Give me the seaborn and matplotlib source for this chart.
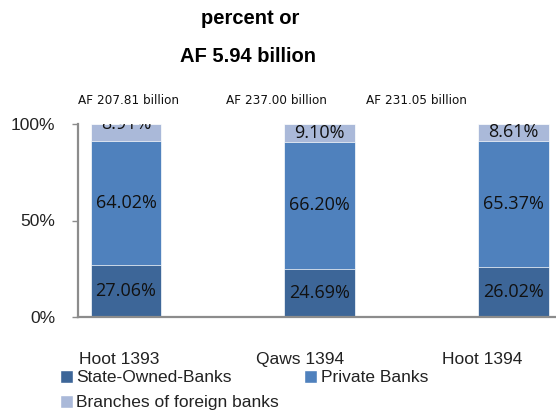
import matplotlib
matplotlib.use("Agg")
import matplotlib.pyplot as plt
import matplotlib.transforms as mtrans
from matplotlib.patches import Patch
from matplotlib import font_manager
import numpy as np
import pandas as pd
import seaborn as sns

periods = ["Hoot 1393", "Qaws 1394", "Hoot 1394"]
state_owned = [27.06, 24.69, 26.02]
private = [64.02, 66.20, 65.37]
foreign = [8.91, 9.10, 8.61]
totals_text = ["AF 207.81 billion", "AF 237.00 billion", "AF 231.05 billion"]
series_names = ["State-Owned-Banks", "Private Banks", "Branches of foreign banks"]
title_lines = ["percent or", "AF 5.94 billion"]

colors = {"State-Owned-Banks": "#3d6698", "Private Banks": "#4f81bd",
          "Branches of foreign banks": "#aab9d9"}

sns.set_theme(style="white")
plt.rcParams['font.family'] = ['Liberation Sans', 'DejaVu Sans']

# look for a condensed face for the total annotations
narrow_family, narrow_stretch, narrow_size = None, "normal", 9.3
for f in font_manager.fontManager.ttflist:
    nm = f.name
    st = f.stretch if isinstance(f.stretch, str) else ""
    if "Narrow" in nm or "Condensed" in nm:
        narrow_family, narrow_stretch, narrow_size = nm, "normal", 9.6
        break
    if st in ("condensed", "semi-condensed") or (isinstance(f.stretch, int) and f.stretch < 500):
        narrow_family, narrow_stretch, narrow_size = nm, "condensed", 9.6
        break
if narrow_family is None:
    narrow_family = "Liberation Sans"

df = pd.DataFrame({"period": periods,
                   "state": np.array(state_owned) / 100,
                   "private": np.array(private) / 100,
                   "foreign": np.array(foreign) / 100})
df["c2"] = df["state"] + df["private"]
df["c3"] = df["c2"] + df["foreign"]

W, H = 556, 412
fig = plt.figure(figsize=(W / 100, H / 100), dpi=100)
ax = fig.add_axes([78 / W, (H - 317) / H, 478 / W, (317 - 124) / H])

bw = 0.366
sns.barplot(data=df, x="period", y="c3", color=colors["Branches of foreign banks"],
            width=bw, saturation=1, ax=ax, edgecolor="white", linewidth=0.5)
sns.barplot(data=df, x="period", y="c2", color=colors["Private Banks"],
            width=bw, saturation=1, ax=ax, edgecolor="white", linewidth=0.5)
sns.barplot(data=df, x="period", y="state", color=colors["State-Owned-Banks"],
            width=bw, saturation=1, ax=ax, edgecolor="white", linewidth=0.5)

# segment labels
lab_font = dict(family=['Open Sans', 'DejaVu Sans'], fontsize=13, color="#111111")
for i in range(len(periods)):
    s, p, f = df.loc[i, "state"], df.loc[i, "private"], df.loc[i, "foreign"]
    ax.text(i, s / 2, f"{state_owned[i]:.2f}%", ha="center", va="center", **lab_font)
    ax.text(i, s + p / 2, f"{private[i]:.2f}%", ha="center", va="center", **lab_font)
    if i == 0:
        ax.text(i, s + p + f, f"{foreign[i]:.2f}%", ha="center", va="center",
                clip_on=True, **lab_font)
    else:
        ax.text(i, s + p + f / 2, f"{foreign[i]:.2f}%", ha="center", va="center", **lab_font)

ax.set_xlim(-0.2477, 2.219)
ax.set_ylim(0, 1)
ax.set_yticks([0, 0.5, 1.0])
ax.set_yticklabels(["0%", "50%", "100%"])
ax.set_xlabel("")
ax.set_ylabel("")
for sp in ["top", "right"]:
    ax.spines[sp].set_visible(False)
for sp in ["left", "bottom"]:
    ax.spines[sp].set_color("#8c8c8c")
    ax.spines[sp].set_linewidth(1.6)
ax.tick_params(axis="y", length=4.3, width=1, color="#8c8c8c", pad=12,
               labelsize=12.5, labelcolor="#222222", left=True)
ax.tick_params(axis="x", length=0, pad=25, labelsize=12.5, labelcolor="#222222")

offsets = [-7, -20, -31]
for lbl, dx in zip(ax.get_xticklabels(), offsets):
    lbl.set_transform(lbl.get_transform() + mtrans.ScaledTranslation(dx / 100, 0, fig.dpi_scale_trans))

# titles
fig.text(250 / W, 1 - 18 / H, title_lines[0], ha="center", va="center",
         fontsize=14.5, fontweight="bold", color="#000000")
fig.text(248 / W, 1 - 57 / H, title_lines[1], ha="center", va="center",
         fontsize=14.5, fontweight="bold", color="#000000")

# total annotations
for xpix, t in zip([129, 276, 416], totals_text):
    fig.text(xpix / W, 1 - 100 / H, t, ha="center", va="center",
             fontsize=narrow_size, family=[narrow_family, 'DejaVu Sans'],
             fontstretch=narrow_stretch, color="#111111")

handles = [Patch(facecolor=colors[series_names[0]], label=series_names[0]),
           Patch(facecolor=colors[series_names[2]], label=series_names[2]),
           Patch(facecolor=colors[series_names[1]], label=series_names[1])]
fig.legend(handles=handles, ncol=2, loc="upper left",
           bbox_to_anchor=(60 / W, 1 - 370 / H), frameon=False,
           fontsize=12.5, handlelength=0.75, handleheight=0.75,
           handletextpad=0.2, columnspacing=1.45, labelspacing=0.55,
           borderpad=0, borderaxespad=0, labelcolor="#222222")

fig.savefig("out.png", dpi=100)
